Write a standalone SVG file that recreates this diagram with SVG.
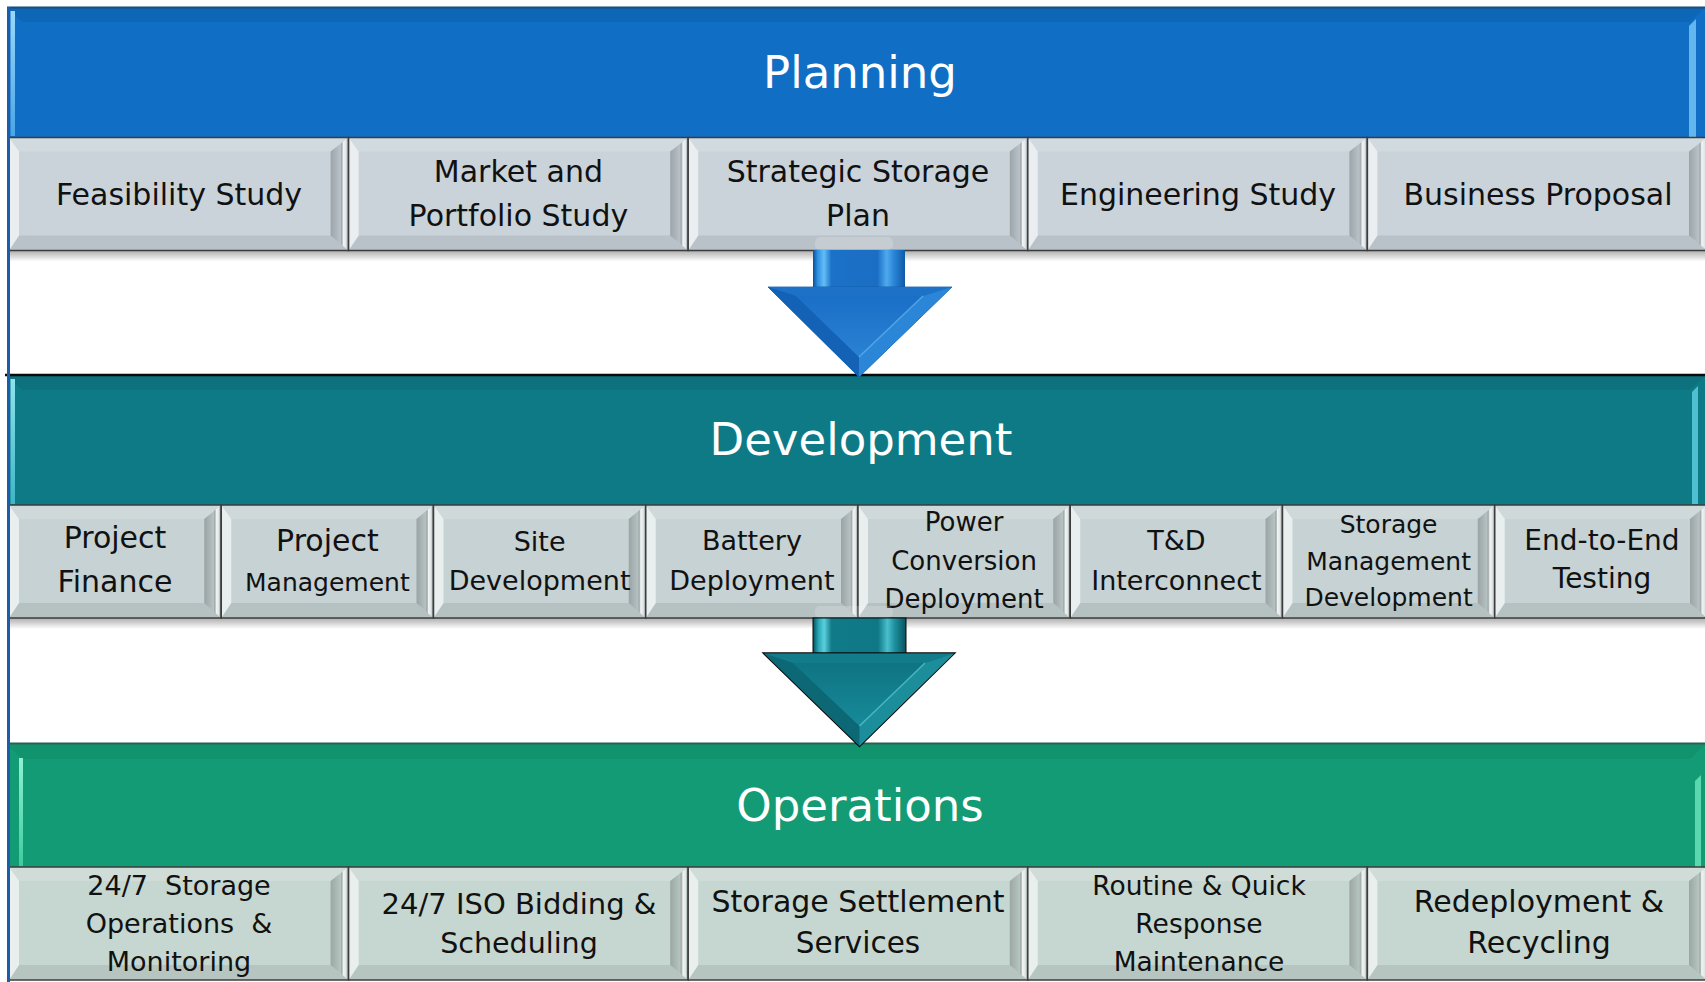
<svg xmlns="http://www.w3.org/2000/svg" width="1705" height="982" viewBox="0 0 1705 982">
  <style>
    .title { font-family: "DejaVu Sans", "Liberation Sans", sans-serif; font-size: 45px; fill: #ffffff; text-anchor: middle; }
    .lbl { font-family: "DejaVu Sans", "Liberation Sans", sans-serif; fill: #111111; text-anchor: middle; }
    .bv-top { fill: #ffffff; fill-opacity: 0.16; }
    .bv-bot { fill: #000000; fill-opacity: 0.08; }
    .bv-left { fill: #ffffff; fill-opacity: 0.62; }
    .bv-edge { fill: none; stroke: #3c3c3c; stroke-width: 1.5; }
    .pl-box { fill: #c9d3d9; }
    .dv-box { fill: #c6d2d3; }
    .op-box { fill: #c6d6d0; }
  </style>
  <defs>
    <linearGradient id="bvRight" x1="0" y1="0" x2="1" y2="0">
      <stop offset="0" stop-color="#000" stop-opacity="0.22"/>
      <stop offset="0.55" stop-color="#000" stop-opacity="0.08"/>
      <stop offset="0.7" stop-color="#fff" stop-opacity="0.75"/>
      <stop offset="0.86" stop-color="#fff" stop-opacity="0.45"/>
      <stop offset="1" stop-color="#000" stop-opacity="0.25"/>
    </linearGradient>
    <linearGradient id="rowShadow" x1="0" y1="0" x2="0" y2="1">
      <stop offset="0" stop-color="#000" stop-opacity="0.32"/>
      <stop offset="1" stop-color="#000" stop-opacity="0"/>
    </linearGradient>
    <linearGradient id="hlBlue" x1="0" y1="0" x2="0" y2="1">
      <stop offset="0" stop-color="#9ad8fb"/>
      <stop offset="1" stop-color="#4aa5e6"/>
    </linearGradient>
    <linearGradient id="hlTeal" x1="0" y1="0" x2="0" y2="1">
      <stop offset="0" stop-color="#8ee3ee"/>
      <stop offset="1" stop-color="#3fb5c6"/>
    </linearGradient>
    <linearGradient id="hlGreen" x1="0" y1="0" x2="0" y2="1">
      <stop offset="0" stop-color="#8ef2d2"/>
      <stop offset="1" stop-color="#3fcb9f"/>
    </linearGradient>
    <linearGradient id="shaftBlue" x1="0" y1="0" x2="1" y2="0">
      <stop offset="0" stop-color="#0b4f98"/>
      <stop offset="0.05" stop-color="#2d90e0"/>
      <stop offset="0.12" stop-color="#64bdf6"/>
      <stop offset="0.2" stop-color="#1c72c8"/>
      <stop offset="0.7" stop-color="#1a6ec3"/>
      <stop offset="0.8" stop-color="#4fa9ee"/>
      <stop offset="0.88" stop-color="#2a85d6"/>
      <stop offset="1" stop-color="#0d5aa6"/>
    </linearGradient>
    <linearGradient id="shaftTeal" x1="0" y1="0" x2="1" y2="0">
      <stop offset="0" stop-color="#06505a"/>
      <stop offset="0.06" stop-color="#2aa8b8"/>
      <stop offset="0.12" stop-color="#5ccfdc"/>
      <stop offset="0.2" stop-color="#0f7a88"/>
      <stop offset="0.7" stop-color="#0f7886"/>
      <stop offset="0.8" stop-color="#48bfcd"/>
      <stop offset="0.88" stop-color="#1e8e9d"/>
      <stop offset="1" stop-color="#08545f"/>
    </linearGradient>
    <linearGradient id="innerBlue" x1="0" y1="0" x2="0" y2="1">
      <stop offset="0" stop-color="#1a6fc6"/>
      <stop offset="1" stop-color="#2a82d4"/>
    </linearGradient>
    <linearGradient id="innerTeal" x1="0" y1="0" x2="0" y2="1">
      <stop offset="0" stop-color="#0f7483"/>
      <stop offset="1" stop-color="#178a99"/>
    </linearGradient>

    <!-- bevelled box shapes; fill comes from the referencing <use> -->
    <g id="boxWide">
      <rect width="339.6" height="113"/>
      <polygon class="bv-top" points="0,0 339.6,0 321.6,14 10,14"/>
      <polygon class="bv-bot" points="0,113 339.6,113 321.6,98 10,98"/>
      <polygon class="bv-left" points="0,0 10,14 10,98 0,113"/>
      <polygon points="339.6,0 321.6,14 321.6,98 339.6,113" fill="url(#bvRight)"/>
      <rect class="bv-edge" width="339.6" height="113"/>
    </g>
    <g id="boxNarrow">
      <rect width="212.25" height="113"/>
      <polygon class="bv-top" points="0,0 212.25,0 195.25,14 10,14"/>
      <polygon class="bv-bot" points="0,113 212.25,113 195.25,98 10,98"/>
      <polygon class="bv-left" points="0,0 10,14 10,98 0,113"/>
      <polygon points="212.25,0 195.25,14 195.25,98 212.25,113" fill="url(#bvRight)"/>
      <rect class="bv-edge" width="212.25" height="113"/>
    </g>
  </defs>

  <rect width="1705" height="982" fill="#ffffff"/>

  <!-- Planning stage -->
  <g id="band-planning">
    <rect x="7" y="7" width="1705" height="131" fill="#106ec4"/>
    <polygon points="7,8 1705,8 1690,22 22,22" fill="#000" fill-opacity="0.07"/>
    <line x1="7" y1="7.5" x2="1705" y2="7.5" stroke="#1a4d80" stroke-width="2"/>
    <rect x="10.5" y="11" width="4.5" height="125" fill="url(#hlBlue)"/>
    <polygon points="1689,26 1696,19 1696,137 1689,137" fill="#62b7ee"/>
    <text class="title" x="860" y="88">Planning</text>
  </g>

  <!-- Development stage -->
  <g id="band-development">
    <rect x="7" y="374" width="1705" height="131" fill="#0e7a86"/>
    <polygon points="7,376 1705,376 1690,390 22,390" fill="#000" fill-opacity="0.06"/>
    <line x1="5" y1="375" x2="1705" y2="375" stroke="#0a0a0a" stroke-width="2.5"/>
    <rect x="10.5" y="379" width="4.5" height="125" fill="url(#hlTeal)"/>
    <polygon points="1692,392 1698,386 1698,504 1692,504" fill="#4ec0d2"/>
    <text class="title" x="861" y="455">Development</text>
  </g>

  <!-- Operations stage -->
  <g id="band-operations">
    <rect x="7" y="743" width="1705" height="125" fill="#129b74"/>
    <polygon points="7,745 1705,745 1690,759 22,759" fill="#000" fill-opacity="0.05"/>
    <line x1="7" y1="743.5" x2="1705" y2="743.5" stroke="#2a5f52" stroke-width="2"/>
    <rect x="19" y="758" width="4" height="108" fill="url(#hlGreen)"/>
    <polygon points="1695,781 1701,775 1701,867 1695,867" fill="#5cd8b0"/>
    <text class="title" x="860" y="821">Operations</text>
  </g>

  <!-- row shadows -->
  <rect x="9" y="250.5" width="1698" height="11" fill="url(#rowShadow)"/>
  <rect x="9" y="618" width="1698" height="11" fill="url(#rowShadow)"/>

  <!-- Planning tasks -->
  <g id="n-feasibility-study">
    <use href="#boxWide" x="9" y="137.5" class="pl-box"/>
    <text class="lbl" x="179" y="205" font-size="30">Feasibility Study</text>
  </g>
  <g id="n-market-portfolio-study">
    <use href="#boxWide" x="348.6" y="137.5" class="pl-box"/>
    <text class="lbl" x="518.4" y="182" font-size="30">Market and</text>
    <text class="lbl" x="518.4" y="226" font-size="30">Portfolio Study</text>
  </g>
  <g id="n-strategic-storage-plan">
    <use href="#boxWide" x="688.2" y="137.5" class="pl-box"/>
    <text class="lbl" x="858" y="182" font-size="30">Strategic Storage</text>
    <text class="lbl" x="858" y="226" font-size="30">Plan</text>
  </g>
  <g id="n-engineering-study">
    <use href="#boxWide" x="1027.8" y="137.5" class="pl-box"/>
    <text class="lbl" x="1198" y="205" font-size="30">Engineering Study</text>
  </g>
  <g id="n-business-proposal">
    <use href="#boxWide" x="1367.4" y="137.5" class="pl-box"/>
    <text class="lbl" x="1538" y="205" font-size="30">Business Proposal</text>
  </g>

  <!-- Development tasks -->
  <g id="n-project-finance">
    <use href="#boxNarrow" x="9" y="505" class="dv-box"/>
    <text class="lbl" x="115" y="548" font-size="30">Project</text>
    <text class="lbl" x="115" y="592" font-size="30">Finance</text>
  </g>
  <g id="n-project-management">
    <use href="#boxNarrow" x="221.25" y="505" class="dv-box"/>
    <text class="lbl" x="327.4" y="551" font-size="30">Project</text>
    <text class="lbl" x="327.4" y="591" font-size="25">Management</text>
  </g>
  <g id="n-site-development">
    <use href="#boxNarrow" x="433.5" y="505" class="dv-box"/>
    <text class="lbl" x="539.6" y="551" font-size="27">Site</text>
    <text class="lbl" x="539.6" y="590" font-size="27">Development</text>
  </g>
  <g id="n-battery-deployment">
    <use href="#boxNarrow" x="645.75" y="505" class="dv-box"/>
    <text class="lbl" x="751.9" y="550" font-size="27">Battery</text>
    <text class="lbl" x="751.9" y="590" font-size="27">Deployment</text>
  </g>
  <g id="n-power-conversion-deployment">
    <use href="#boxNarrow" x="858" y="505" class="dv-box"/>
    <text class="lbl" x="964.1" y="531" font-size="26">Power</text>
    <text class="lbl" x="964.1" y="570" font-size="26">Conversion</text>
    <text class="lbl" x="964.1" y="608" font-size="26">Deployment</text>
  </g>
  <g id="n-td-interconnect">
    <use href="#boxNarrow" x="1070.25" y="505" class="dv-box"/>
    <text class="lbl" x="1176.4" y="550" font-size="27">T&amp;D</text>
    <text class="lbl" x="1176.4" y="590" font-size="27">Interconnect</text>
  </g>
  <g id="n-storage-management-development">
    <use href="#boxNarrow" x="1282.5" y="505" class="dv-box"/>
    <text class="lbl" x="1388.6" y="533" font-size="25">Storage</text>
    <text class="lbl" x="1388.6" y="570" font-size="25">Management</text>
    <text class="lbl" x="1388.6" y="606" font-size="25">Development</text>
  </g>
  <g id="n-end-to-end-testing">
    <use href="#boxNarrow" x="1494.75" y="505" class="dv-box"/>
    <text class="lbl" x="1602" y="550" font-size="28">End-to-End</text>
    <text class="lbl" x="1602" y="588" font-size="28">Testing</text>
  </g>

  <!-- Operations tasks -->
  <g id="n-storage-operations-monitoring">
    <use href="#boxWide" x="9" y="867" class="op-box"/>
    <text class="lbl" x="179" y="895" font-size="27" xml:space="preserve">24/7  Storage</text>
    <text class="lbl" x="179" y="933" font-size="27" xml:space="preserve">Operations  &amp;</text>
    <text class="lbl" x="179" y="971" font-size="27">Monitoring</text>
  </g>
  <g id="n-iso-bidding-scheduling">
    <use href="#boxWide" x="348.6" y="867" class="op-box"/>
    <text class="lbl" x="519" y="914" font-size="29">24/7 ISO Bidding &amp;</text>
    <text class="lbl" x="519" y="953" font-size="28.5">Scheduling</text>
  </g>
  <g id="n-storage-settlement-services">
    <use href="#boxWide" x="688.2" y="867" class="op-box"/>
    <text class="lbl" x="858" y="912" font-size="30">Storage Settlement</text>
    <text class="lbl" x="858" y="953" font-size="29.5">Services</text>
  </g>
  <g id="n-routine-quick-maintenance">
    <use href="#boxWide" x="1027.8" y="867" class="op-box"/>
    <text class="lbl" x="1199" y="895" font-size="26.5">Routine &amp; Quick</text>
    <text class="lbl" x="1199" y="933" font-size="26.5">Response</text>
    <text class="lbl" x="1199" y="971" font-size="26.5">Maintenance</text>
  </g>
  <g id="n-redeployment-recycling">
    <use href="#boxWide" x="1367.4" y="867" class="op-box"/>
    <text class="lbl" x="1539" y="912" font-size="30">Redeployment &amp;</text>
    <text class="lbl" x="1539" y="953" font-size="30">Recycling</text>
  </g>

  <!-- stage-to-stage block arrows -->
  <g id="connectors">
    <g id="arrow-planning-development">
      <rect x="815" y="237" width="78" height="13" rx="5" fill="#ffffff" fill-opacity="0.18"/>
      <rect x="813" y="250" width="92" height="38" fill="url(#shaftBlue)"/>
      <polygon points="768,287 952,287 859,377" fill="#1568bf" stroke="#0f5aa8" stroke-width="0.8"/>
      <polygon points="768,287 952,287 923,296 796,296" fill="#1d72c8"/>
      <polygon points="768,287 796,296 859,357 859,377" fill="#1462b6"/>
      <polygon points="952,287 923,296 859,357 859,377" fill="#2b86d8"/>
      <polygon points="796,296 923,296 859,357" fill="url(#innerBlue)"/>
      <line x1="923" y1="296" x2="859" y2="357" stroke="#62b3f0" stroke-width="1.5" stroke-opacity="0.75"/>
    </g>
    <g id="arrow-development-operations">
      <rect x="815" y="606" width="78" height="12" rx="5" fill="#ffffff" fill-opacity="0.18"/>
      <rect x="813" y="618" width="93" height="36" fill="url(#shaftTeal)" stroke="#0a0a0a" stroke-width="1"/>
      <polygon points="763,653 955,653 859.5,746.5" fill="#0e7280" stroke="#0a0a0a" stroke-width="1.3"/>
      <polygon points="764,653.5 954,653.5 925,663 793,663" fill="#127c8a"/>
      <polygon points="764,653.5 793,663 859.5,726 859.5,746" fill="#0c6875"/>
      <polygon points="954,653.5 925,663 859.5,726 859.5,746" fill="#1b8d9b"/>
      <polygon points="793,663 925,663 859.5,726" fill="url(#innerTeal)"/>
      <line x1="925" y1="663" x2="859.5" y2="726" stroke="#58c8d6" stroke-width="1.5" stroke-opacity="0.75"/>
    </g>
  </g>

  <!-- left frame rule -->
  <line x1="8.5" y1="7" x2="8.5" y2="982" stroke="#1b5da8" stroke-width="3"/>
</svg>
